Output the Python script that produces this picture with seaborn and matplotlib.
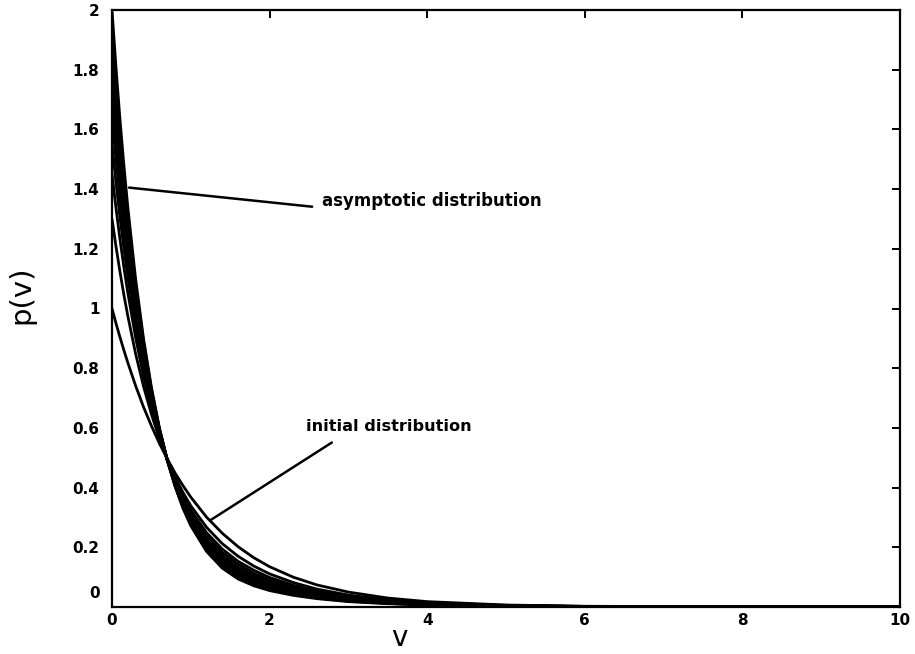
import matplotlib
matplotlib.use("Agg")
import matplotlib.pyplot as plt
import matplotlib.transforms as mtransforms
import pandas as pd
import seaborn as sns

# ---- data ----
v_grid = [0, 0.05, 0.1, 0.15, 0.2, 0.3, 0.4, 0.5, 0.6, 0.7, 0.8, 0.9, 1.0,
          1.2, 1.4, 1.6, 1.8, 2.0, 2.3, 2.6, 3.0, 3.5, 4.0, 5.0, 6.0, 8.0, 10.0]

curve_initial = [1.000, 0.951, 0.905, 0.861, 0.819, 0.741, 0.670, 0.607, 0.549, 0.497, 0.449, 0.407, 0.368,
                 0.301, 0.247, 0.202, 0.165, 0.135, 0.100, 0.074, 0.050, 0.030, 0.018, 0.0067, 0.0025, 0.0003, 0.0]
curve_02 = [1.300, 1.209, 1.125, 1.047, 0.976, 0.848, 0.739, 0.646, 0.565, 0.496, 0.436, 0.384, 0.339,
            0.267, 0.212, 0.170, 0.137, 0.111, 0.082, 0.060, 0.040, 0.024, 0.0146, 0.0054, 0.0020, 0.0002, 0.0]
curve_03 = [1.450, 1.338, 1.234, 1.140, 1.054, 0.902, 0.773, 0.665, 0.573, 0.495, 0.429, 0.373, 0.325,
            0.249, 0.194, 0.153, 0.123, 0.099, 0.073, 0.053, 0.036, 0.021, 0.0128, 0.0048, 0.0018, 0.0002, 0.0]
curve_04 = [1.550, 1.423, 1.308, 1.203, 1.106, 0.937, 0.796, 0.678, 0.578, 0.495, 0.424, 0.365, 0.315,
            0.238, 0.183, 0.143, 0.113, 0.091, 0.066, 0.049, 0.032, 0.0196, 0.0117, 0.0043, 0.0016, 0.0002, 0.0]
curve_05 = [1.640, 1.501, 1.373, 1.258, 1.153, 0.969, 0.817, 0.690, 0.583, 0.494, 0.420, 0.358, 0.307,
            0.227, 0.172, 0.133, 0.105, 0.084, 0.061, 0.045, 0.030, 0.0178, 0.0106, 0.0039, 0.0015, 0.0002, 0.0]
curve_06 = [1.720, 1.569, 1.432, 1.308, 1.195, 0.998, 0.835, 0.700, 0.587, 0.494, 0.417, 0.352, 0.299,
            0.218, 0.163, 0.124, 0.097, 0.077, 0.056, 0.041, 0.027, 0.0163, 0.0097, 0.0036, 0.0013, 0.0001, 0.0]
curve_07 = [1.790, 1.630, 1.483, 1.352, 1.231, 1.023, 0.851, 0.709, 0.591, 0.494, 0.413, 0.347, 0.292,
            0.210, 0.155, 0.117, 0.091, 0.072, 0.052, 0.038, 0.0247, 0.0150, 0.0089, 0.0033, 0.0012, 0.0001, 0.0]
curve_08 = [1.850, 1.681, 1.527, 1.389, 1.263, 1.044, 0.865, 0.717, 0.594, 0.494, 0.411, 0.342, 0.286,
            0.203, 0.148, 0.110, 0.085, 0.067, 0.048, 0.035, 0.0228, 0.0139, 0.0082, 0.0030, 0.0011, 0.0001, 0.0]
curve_09 = [1.900, 1.724, 1.564, 1.420, 1.289, 1.062, 0.876, 0.723, 0.597, 0.493, 0.409, 0.339, 0.282,
            0.198, 0.142, 0.105, 0.080, 0.063, 0.045, 0.033, 0.0212, 0.0129, 0.0077, 0.0028, 0.0011, 0.0001, 0.0]
curve_10 = [1.950, 1.767, 1.600, 1.451, 1.315, 1.080, 0.888, 0.730, 0.599, 0.493, 0.406, 0.335, 0.277,
            0.192, 0.136, 0.099, 0.076, 0.059, 0.042, 0.030, 0.0196, 0.0120, 0.0071, 0.0026, 0.0010, 0.0001, 0.0]
curve_asymptotic = [2.000, 1.810, 1.637, 1.482, 1.341, 1.098, 0.899, 0.736, 0.602, 0.493, 0.404, 0.331, 0.272,
                    0.186, 0.130, 0.094, 0.071, 0.055, 0.039, 0.028, 0.018, 0.011, 0.0065, 0.0024, 0.0009, 0.0001, 0.0]

curves = [curve_initial, curve_02, curve_03, curve_04, curve_05, curve_06,
          curve_07, curve_08, curve_09, curve_10, curve_asymptotic]

xticks = [0, 2, 4, 6, 8, 10]
xtick_labels = ["0", "2", "4", "6", "8", "10"]
yticks = [0, 0.2, 0.4, 0.6, 0.8, 1.0, 1.2, 1.4, 1.6, 1.8, 2.0]
ytick_labels = ["0", "0.2", "0.4", "0.6", "0.8", "1", "1.2", "1.4", "1.6", "1.8", "2"]

label_asym = "asymptotic distribution"
label_init = "initial distribution"

# ---- build long table ----
rows = []
for k, c in enumerate(curves):
    assert len(c) == len(v_grid)
    for v, p in zip(v_grid, c):
        rows.append({"curve": k, "v": v, "p": p})
df = pd.DataFrame(rows)

sns.set_style("white")
plt.rcParams["font.family"] = ["DejaVu Sans"]
plt.rcParams["text.color"] = "black"

fig = plt.figure(figsize=(9.15, 6.54), dpi=100)
ax = fig.add_axes([112 / 915, 1 - 607 / 654, (900 - 112) / 915, (607 - 10) / 654])

sns.lineplot(data=df, x="v", y="p", units="curve", estimator=None, sort=False,
             color="black", linewidth=2.0, legend=False, ax=ax)

ax.set_xlim(0, 10)
ax.set_ylim(0, 2)
ax.set_xticks(xticks)
ax.set_xticklabels(xtick_labels)
ax.set_yticks(yticks)
ax.set_yticklabels(ytick_labels)

for s in ax.spines.values():
    s.set_visible(True)
    s.set_color("black")
    s.set_linewidth(1.6)

ax.tick_params(axis="both", which="both", direction="in", length=6, width=1.4,
               top=True, right=True, labelsize=11, colors="black")
ax.tick_params(axis="y", pad=9)
ax.tick_params(axis="x", pad=4)
for lab in ax.get_xticklabels() + ax.get_yticklabels():
    lab.set_fontweight("bold")

# the "0" y label sits a bit above the axis in the original
zero_lab = ax.get_yticklabels()[0]
zero_lab.set_transform(zero_lab.get_transform() +
                       mtransforms.ScaledTranslation(0, 15 / 100, fig.dpi_scale_trans))

ax.set_xlabel("v", fontsize=20, color="black")
ax.xaxis.label.set_verticalalignment("baseline")
ax.xaxis.set_label_coords(0.365, -0.0655)
ax.set_ylabel("p(v)", fontsize=21, color="black")
ax.yaxis.set_label_coords(-0.097, 0.523)

# annotations
ax.annotate("", xy=(0.216, 1.405), xytext=(2.54, 1.341),
            arrowprops=dict(arrowstyle="-", color="black", lw=1.8, shrinkA=0, shrinkB=0))
ax.text(2.665, 1.361, label_asym, fontsize=12, fontweight="bold", va="center", ha="left",
        color="black")
ax.annotate("", xy=(1.256, 0.292), xytext=(2.79, 0.551),
            arrowprops=dict(arrowstyle="-", color="black", lw=1.8, shrinkA=0, shrinkB=0))
ax.text(2.46, 0.605, label_init, fontsize=11.6, fontweight="bold", va="center", ha="left",
        color="black")

fig.savefig("out.png", dpi=100)
